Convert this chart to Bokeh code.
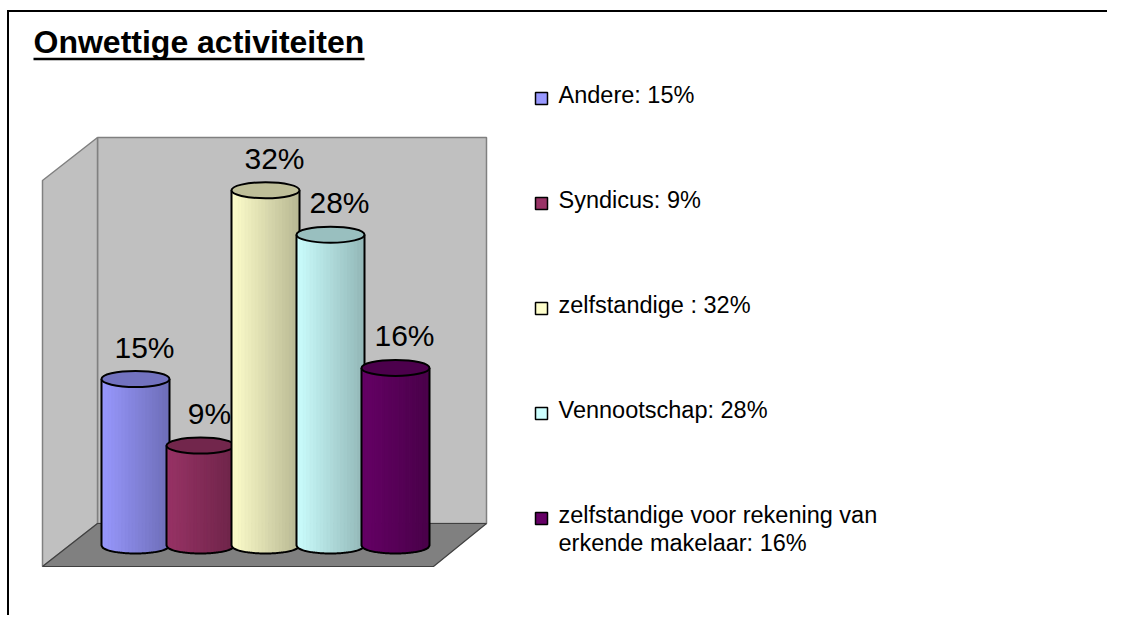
import numpy as np
from bokeh.plotting import figure
from bokeh.models import Range1d
from bokeh.embed import file_html
from bokeh.resources import INLINE
from bokeh.core.properties import value

# ---------------- data ----------------
title_text = "Onwettige activiteiten"
categories = ["Andere", "Syndicus", "zelfstandige", "Vennootschap",
              "zelfstandige voor rekening van erkende makelaar"]
values = [15, 9, 32, 28, 16]
bar_labels = ["15%", "9%", "32%", "28%", "16%"]
legend_labels = ["Andere: 15%", "Syndicus: 9%", "zelfstandige : 32%",
                 "Vennootschap: 28%",
                 "zelfstandige voor rekening van\nerkende makelaar: 16%"]
colors = ["#9999FF", "#993366", "#FFFFCC", "#CCFFFF", "#660066"]

# ---------------- layout (page pixels) ----------------
W, H = 1107, 615
PAGE_L, PAGE_T = 0, 0
BAR0_PX, PITCH_PX = 135, 65
ZERO_PX, PX_PER_PCT = 545, 11.1
FONT = "Liberation Sans"


def px2x(px):
    return (px - BAR0_PX) / PITCH_PX


def px2y(py):
    return (ZERO_PX - py) / PX_PER_PCT


def shade(hexcol, f):
    h = hexcol.lstrip("#")
    r, g, b = (int(h[i:i + 2], 16) for i in (0, 2, 4))
    return "#%02x%02x%02x" % (int(r * f), int(g * f), int(b * f))


p = figure(width=W, height=H,
           x_range=Range1d(px2x(PAGE_L), px2x(PAGE_L + W)),
           y_range=Range1d(px2y(PAGE_T + H), px2y(PAGE_T)),
           output_backend="svg", toolbar_location=None,
           x_axis_location=None, y_axis_location=None, min_border=0)
p.grid.visible = False
p.outline_line_color = None
p.background_fill_color = "white"
p.border_fill_color = "white"

# ---------------- 3D walls ----------------
back = ([px2x(97), px2x(486), px2x(486), px2x(97)],
        [px2y(137), px2y(137), px2y(523), px2y(523)])
left = ([px2x(42), px2x(97), px2x(97), px2x(42)],
        [px2y(180), px2y(137), px2y(523), px2y(566)])
floor = ([px2x(42), px2x(433), px2x(486), px2x(97)],
         [px2y(566), px2y(566), px2y(523), px2y(523)])
p.patch(*back, fill_color="#C0C0C0", line_color="#808080", line_width=1.5)
p.patch(*left, fill_color="#C0C0C0", line_color="#808080", line_width=1.5)
p.patch(*floor, fill_color="#808080", line_color="#404040", line_width=1.2)

# ---------------- cylinders ----------------
bw = 68 / PITCH_PX
eh = 16 / PX_PER_PCT
nstrip = 20
for i, (v, c) in enumerate(zip(values, colors)):
    xc = i
    edges = np.linspace(xc - bw / 2, xc + bw / 2, nstrip + 1)
    xs, ys, fills = [], [], []
    for k in range(nstrip):
        xl, xr = edges[k], edges[k + 1]
        t = (k + 0.5) / nstrip
        fills.append(shade(c, 1.0 - 0.28 * t))
        u = np.linspace(xl, xr, 4)
        bot = -eh / 2 * np.sqrt(np.clip(1 - ((u - xc) / (bw / 2)) ** 2, 0, 1))
        xs.append([xl, xr] + list(u[::-1]))
        ys.append([v, v] + list(bot[::-1]))
    p.patches(xs, ys, fill_color=fills, line_color=fills, line_width=1)
    u = np.linspace(xc - bw / 2, xc + bw / 2, 60)
    bot = -eh / 2 * np.sqrt(np.clip(1 - ((u - xc) / (bw / 2)) ** 2, 0, 1))
    ox = [xc - bw / 2, xc - bw / 2] + list(u) + [xc + bw / 2]
    oy = [v, 0] + list(bot) + [v]
    p.line(ox, oy, line_color="black", line_width=2)
    p.ellipse(x=xc, y=v, width=bw, height=eh, fill_color=shade(c, 0.75),
              line_color="black", line_width=2)

# data labels
p.text(x=list(range(len(values))), y=values, text=bar_labels,
       text_font=value(FONT), text_font_size="30px", text_color="black",
       text_align="center", text_baseline="middle",
       x_offset=9, y_offset=-32)

# ---------------- legend ----------------
LEG_SQ_X, LEG_TX_X = 541, 558
LEG_Y0, LEG_STEP, LINE_H = 94.5, 105, 28
p.scatter(x=[px2x(LEG_SQ_X)] * len(colors),
          y=[px2y(LEG_Y0 + 3.5 + LEG_STEP * i) for i in range(len(colors))],
          marker="square", size=12, fill_color=colors, line_color="black",
          line_width=1.5)
tx, ty, tt = [], [], []
for i, lab in enumerate(legend_labels):
    for k, line in enumerate(lab.split("\n")):
        tx.append(px2x(LEG_TX_X))
        ty.append(px2y(LEG_Y0 + LEG_STEP * i + LINE_H * k))
        tt.append(line)
p.text(x=tx, y=ty, text=tt, text_font=value(FONT), text_font_size="23.5px",
       text_color="black", text_align="left", text_baseline="middle")

# ---------------- title ----------------
p.text(x=[px2x(33)], y=[px2y(41.5)], text=[title_text], text_font=value(FONT),
       text_font_size="32px", text_font_style="bold", text_color="black",
       text_align="left", text_baseline="middle")
p.line([px2x(33), px2x(364)], [px2y(58.5)] * 2, line_color="black",
       line_width=2.5)

# ---------------- chart frame ----------------
p.line([px2x(7.5), px2x(7.5)], [px2y(10.5), px2y(PAGE_T + H)],
       line_color="black", line_width=2)
p.line([px2x(6.5), px2x(PAGE_L + W)], [px2y(10.5)] * 2, line_color="black",
       line_width=2)

open("out.html", "w").write(file_html(p, INLINE))
